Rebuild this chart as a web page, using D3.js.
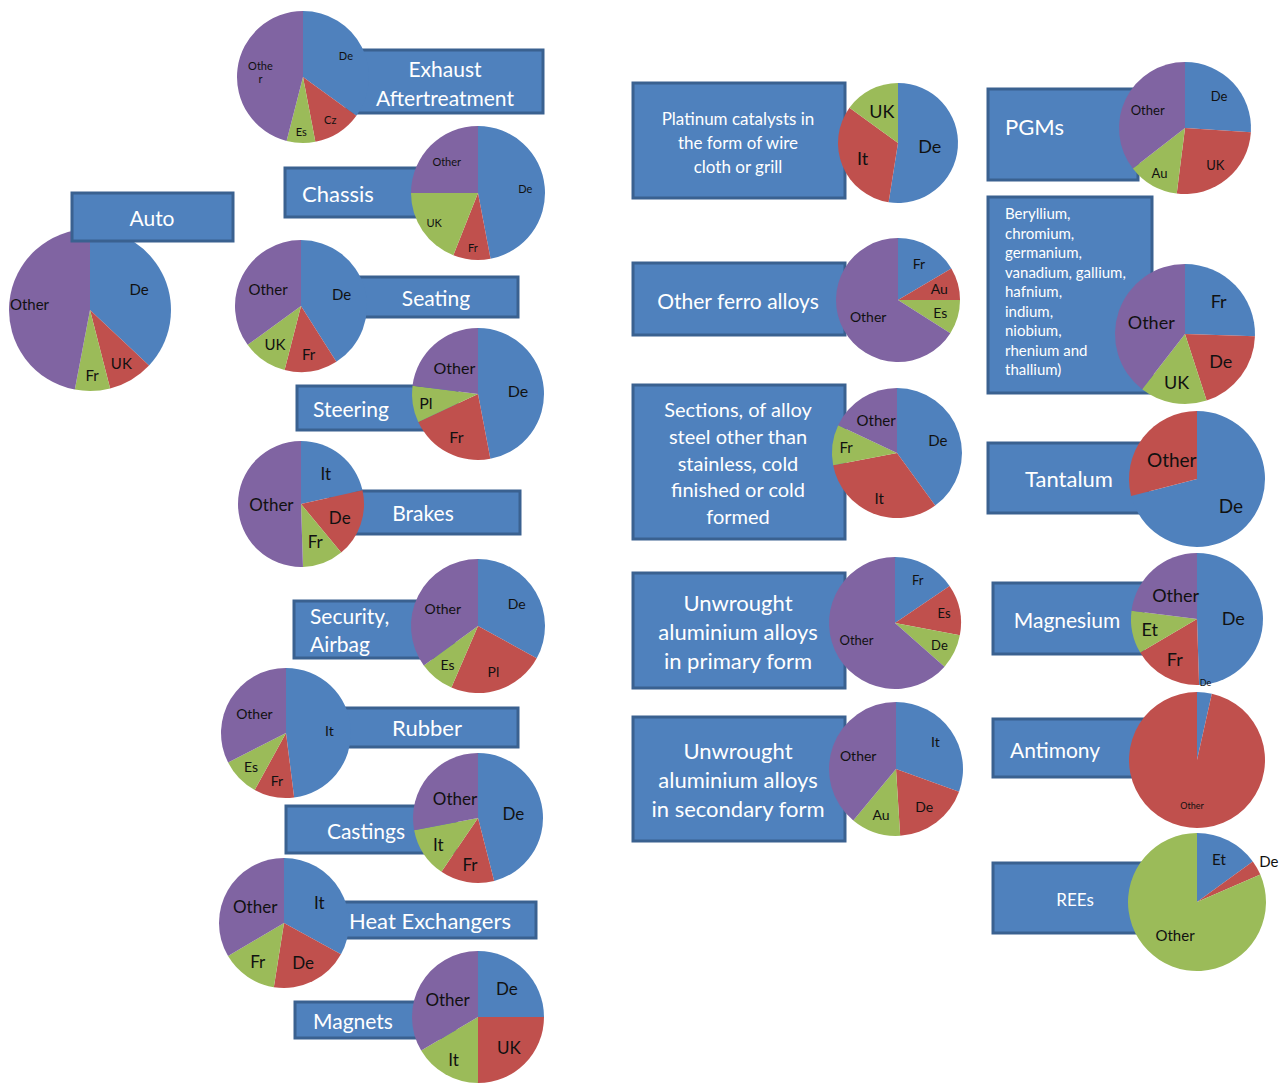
<!DOCTYPE html>
<html><head><meta charset="utf-8">
<script src="https://cdn.jsdelivr.net/npm/d3@7"></script>
<style>
html,body{margin:0;padding:0;background:#fff;}
svg{display:block;font-family:Lato,"Open Sans",sans-serif;}
</style></head>
<body>
<svg id="c" width="1288" height="1084"></svg>
<script>
// ---------- DATA ----------
const chartTitles = [
  ["Auto"], ["Exhaust","Aftertreatment"], ["Chassis"], ["Seating"], ["Steering"],
  ["Brakes"], ["Security,","Airbag"], ["Rubber"], ["Castings"], ["Heat Exchangers"], ["Magnets"],
  ["Platinum catalysts in","the form of wire","cloth or grill"], ["Other ferro alloys"],
  ["Sections, of alloy","steel other than","stainless, cold","finished or cold","formed"],
  ["Unwrought","aluminium alloys","in primary form"],
  ["Unwrought","aluminium alloys","in secondary form"],
  ["PGMs"],
  ["Beryllium,","chromium,","germanium,","vanadium, gallium,","hafnium,","indium,","niobium,","rhenium and","thallium)"],
  ["Tantalum"], ["Magnesium"], ["Antimony"], ["REEs"]
];
const sliceLabels = [
  ["De","UK","Fr","Other"],
  ["De","Cz","Es","Othe\nr"],
  ["De","Fr","UK","Other"],
  ["De","Fr","UK","Other"],
  ["De","Fr","Pl","Other"],
  ["It","De","Fr","Other"],
  ["De","Pl","Es","Other"],
  ["It","Fr","Es","Other"],
  ["De","Fr","It","Other"],
  ["It","De","Fr","Other"],
  ["De","UK","It","Other"],
  ["De","It","UK"],
  ["Fr","Au","Es","Other"],
  ["De","It","Fr","Other"],
  ["Fr","Es","De","Other"],
  ["It","De","Au","Other"],
  ["De","UK","Au","Other"],
  ["Fr","De","UK","Other"],
  ["De","Other"],
  ["De","Fr","Et","Other"],
  ["De","Other"],
  ["Et","De","Other"]
];
const sliceValues = [
  [37,9,7,47],
  [35,12,7,46],
  [47,9,19,25],
  [41,13,11,35],
  [47,21,9,23],
  [21.5,17.5,10.5,50.5],
  [33,23.5,8.5,35],
  [48,10,9.5,32.5],
  [46,13.5,12.5,28],
  [33,19.5,14,33.5],
  [25,25,16.5,33.5],
  [52.5,32.5,15],
  [16.5,8.5,9,66],
  [40,32,10,18],
  [15.5,12.5,8.5,63.5],
  [30.5,18.5,12,39],
  [26,26,12.5,35.5],
  [25.5,19.5,15.5,39.5],
  [71,29],
  [49.5,17,10.5,23],
  [3.5,96.5],
  [15,3.5,81.5]
];
const sliceColors = ["#4F81BD","#C0504D","#9BBB59","#8064A2"];

// ---------- LAYOUT (positions / styles) ----------
// lk: label distance from centre, as a fraction of the radius, per slice
const layout = [
  {cx:90,cy:310,r:81,fs:15,lk:[0.66,0.76,0.80,0.75],box:[72,193,161,48],tx:152,ty:[217],an:"middle",tfs:21,boxTop:true},
  {cx:303,cy:77,r:66,fs:11,lk:[0.73,0.77,0.82,0.65],box:[347,50,196,63],tx:445,ty:[68,97],an:"middle",tfs:21},
  {cx:478,cy:193,r:67,fs:11,lk:[0.71,0.81,0.79,0.66],box:[285,168,170,49],tx:302,ty:[193],an:"start",tfs:22},
  {cx:301,cy:306,r:66,fs:15,lk:[0.64,0.73,0.70,0.56],box:[340,277,178,40],tx:436,ty:[297],an:"middle",tfs:21},
  {cx:478,cy:394,r:66,fs:16,lk:[0.61,0.72,0.80,0.54],box:[297,386,160,44],tx:313,ty:[408],an:"start",tfs:21},
  {cx:301,cy:504,r:63,fs:17,lk:[0.63,0.65,0.64,0.47],box:[330,491,190,43],tx:423,ty:[512],an:"middle",tfs:21},
  {cx:478,cy:626,r:67,fs:14,lk:[0.67,0.71,0.73,0.59],box:[294,601,160,57],tx:310,ty:[615,643],an:"start",tfs:21},
  {cx:286,cy:733,r:65,fs:14,lk:[0.67,0.75,0.75,0.57],box:[330,708,188,39],tx:427,ty:[727],an:"middle",tfs:22},
  {cx:478,cy:818,r:65,fs:17,lk:[0.55,0.72,0.73,0.46],box:[286,806,170,47],tx:366,ty:[830],an:"middle",tfs:21},
  {cx:284,cy:923,r:65,fs:17,lk:[0.63,0.67,0.72,0.51],box:[320,902,216,36],tx:430,ty:[920],an:"middle",tfs:22},
  {cx:478,cy:1017,r:66,fs:17,lk:[0.62,0.66,0.75,0.53],box:[295,1002,160,36],tx:353,ty:[1020],an:"middle",tfs:21},
  {cx:898,cy:143,r:60,fs:18,lk:[0.53,0.64,0.59],box:[633,83,212,115],tx:738,ty:[118,142,166],an:"middle",tfs:17},
  {cx:898,cy:300,r:62,fs:14,lk:[0.68,0.69,0.71,0.55],box:[633,263,212,72],tx:738,ty:[300],an:"middle",tfs:21},
  {cx:897,cy:453,r:65,fs:15,lk:[0.66,0.74,0.79,0.60],box:[633,385,212,154],tx:738,ty:[409,436,463,489,516],an:"middle",tfs:20},
  {cx:895,cy:623,r:66,fs:13,lk:[0.74,0.76,0.75,0.64],box:[633,573,212,115],tx:738,ty:[602,631,660],an:"middle",tfs:22},
  {cx:896,cy:769,r:67,fs:14,lk:[0.72,0.70,0.72,0.60],box:[633,717,212,124],tx:738,ty:[750,779,808],an:"middle",tfs:22},
  {cx:1185,cy:128,r:66,fs:13,lk:[0.71,0.72,0.78,0.63],box:[988,89,150,91],tx:1005,ty:[126],an:"start",tfs:22},
  {cx:1185,cy:334,r:70,fs:18,lk:[0.67,0.64,0.70,0.51],box:[988,197,164,196],tx:1005,ty:[213,232.5,252,271.5,291,310.5,330,349.5,369],an:"start",tfs:15},
  {cx:1197,cy:479,r:68,fs:19,lk:[0.63,0.47],box:[988,443,160,70],tx:1069,ty:[478],an:"middle",tfs:22},
  {cx:1197,cy:619,r:66,fs:18,lk:[0.55,0.70,0.73,0.49],box:[993,583,150,71],tx:1067,ty:[619],an:"middle",tfs:21},
  {cx:1197,cy:760,r:68,fs:9,lk:[1.14,0.67],box:[993,719,150,58],tx:1010,ty:[749],an:"start",tfs:21},
  {cx:1197,cy:902,r:69,fs:15,lk:[0.70,1.2,0.58],box:[993,863,160,70],tx:1075,ty:[899],an:"middle",tfs:17}
];

// ---------- DRAW ----------
const svg = d3.select("#c");
const pie = d3.pie().sort(null).value(d => d);

function drawBox(g, L, lines){
  const [x,y,w,h] = L.box;
  g.append("rect").attr("x",x).attr("y",y).attr("width",w).attr("height",h)
    .attr("fill","#4F81BD").attr("stroke","#3A6190").attr("stroke-width",3);
  lines.forEach((t,i)=>{
    g.append("text").attr("x",L.tx).attr("y",L.ty[i]).attr("text-anchor",L.an)
      .attr("dominant-baseline","central").attr("fill","#fff")
      .attr("font-size",L.tfs).text(t);
  });
}

function drawPie(g, L, labels, values){
  const arcs = pie(values);
  const arc = d3.arc().innerRadius(0).outerRadius(L.r);
  const pg = g.append("g").attr("transform",`translate(${L.cx},${L.cy})`);
  pg.selectAll("path.s").data(arcs).enter().append("path").attr("class","s")
    .attr("d",arc).attr("fill",(d,i)=>sliceColors[i % sliceColors.length]);
  arcs.forEach((d,i)=>{
    const k = L.lk[i];
    const la = d3.arc().innerRadius(L.r*k).outerRadius(L.r*k);
    const [lx,ly] = la.centroid(d);
    const parts = labels[i].split("\n");
    const fs = L.fs;
    parts.forEach((p,j)=>{
      pg.append("text").attr("x",lx).attr("y",ly + (j-(parts.length-1)/2)*fs*1.2)
        .attr("text-anchor","middle").attr("dominant-baseline","central")
        .attr("fill","#111").attr("font-size",fs).text(p);
    });
  });
}

layout.forEach((L,idx)=>{
  const g = svg.append("g");
  if (L.boxTop){
    drawPie(g, L, sliceLabels[idx], sliceValues[idx]);
    drawBox(g, L, chartTitles[idx]);
  } else {
    drawBox(g, L, chartTitles[idx]);
    drawPie(g, L, sliceLabels[idx], sliceValues[idx]);
  }
});
</script>
</body></html>
